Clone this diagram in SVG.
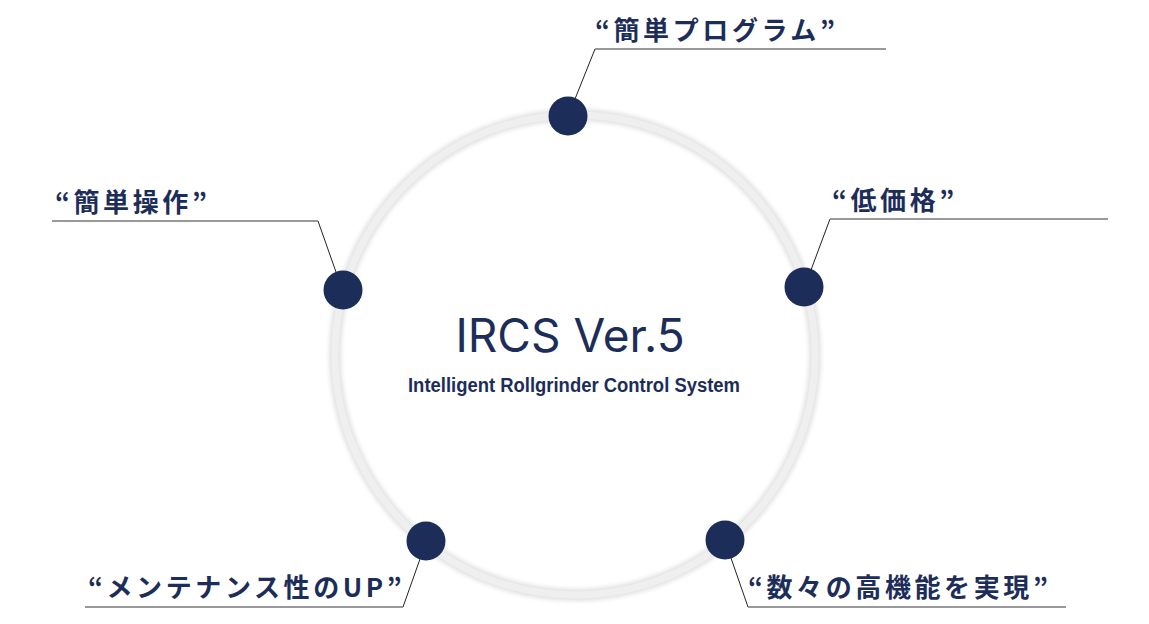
<svg xmlns="http://www.w3.org/2000/svg" width="1149" height="624" viewBox="0 0 1149 624">
<defs>
<style>
.lbl{font-family:"Noto Sans CJK JP","Noto Sans",sans-serif;font-weight:700;font-size:26px;letter-spacing:3.6px;fill:#1d2d5a}
.dot{fill:#1d2d5a}
.ln{stroke:#222;stroke-width:1;fill:none}
.hl{stroke:#777;stroke-width:1.5;fill:none}
</style>
<filter id="sh" x="-20%" y="-20%" width="140%" height="140%"><feGaussianBlur stdDeviation="2"/></filter>
</defs>
<rect width="1149" height="624" fill="#fff"/>
<g id="ring">
<circle cx="575" cy="355" r="240" fill="none" stroke="#e2e2e2" stroke-width="12" filter="url(#sh)"/>
<circle cx="575" cy="355" r="240" fill="none" stroke="#efefef" stroke-width="7"/>
</g>
<g id="center">
<text x="570" y="352" text-anchor="middle" font-family="Inter,'Noto Sans',sans-serif" font-size="46" fill="#1d2d5a">IRCS Ver.5</text>
<text x="408" y="392" textLength="332" lengthAdjust="spacingAndGlyphs" font-family="'Liberation Sans',sans-serif" font-weight="700" font-size="20" fill="#1d2d5a">Intelligent Rollgrinder Control System</text>
</g>
<g id="connectors">
<polyline class="ln" points="575,99 595,49"/><line class="hl" x1="595" y1="49" x2="886" y2="49"/>
<polyline class="ln" points="336,272 318,221"/><line class="hl" x1="318" y1="221" x2="52" y2="221"/>
<polyline class="ln" points="811,270 830,219"/><line class="hl" x1="830" y1="219" x2="1108" y2="219"/>
<polyline class="ln" points="420,559 403,607"/><line class="hl" x1="403" y1="607" x2="85" y2="607"/>
<polyline class="ln" points="731,558 748,607"/><line class="hl" x1="748" y1="607" x2="1066" y2="607"/>
</g>
<g id="n1"><circle class="dot" cx="568" cy="116" r="19.5"/><text class="lbl" x="595" y="40">“簡単プログラム”</text></g>
<g id="n2"><circle class="dot" cx="343" cy="290" r="19.5"/><text class="lbl" x="55" y="212">“簡単操作”</text></g>
<g id="n3"><circle class="dot" cx="804" cy="287" r="19.5"/><text class="lbl" x="832" y="210">“低価格”</text></g>
<g id="n4"><circle class="dot" cx="426" cy="541" r="19.5"/><text class="lbl" x="88" y="597">“メンテナンス性のUP”</text></g>
<g id="n5"><circle class="dot" cx="725" cy="540" r="19.5"/><text class="lbl" x="748" y="597">“数々の高機能を実現”</text></g>
</svg>
